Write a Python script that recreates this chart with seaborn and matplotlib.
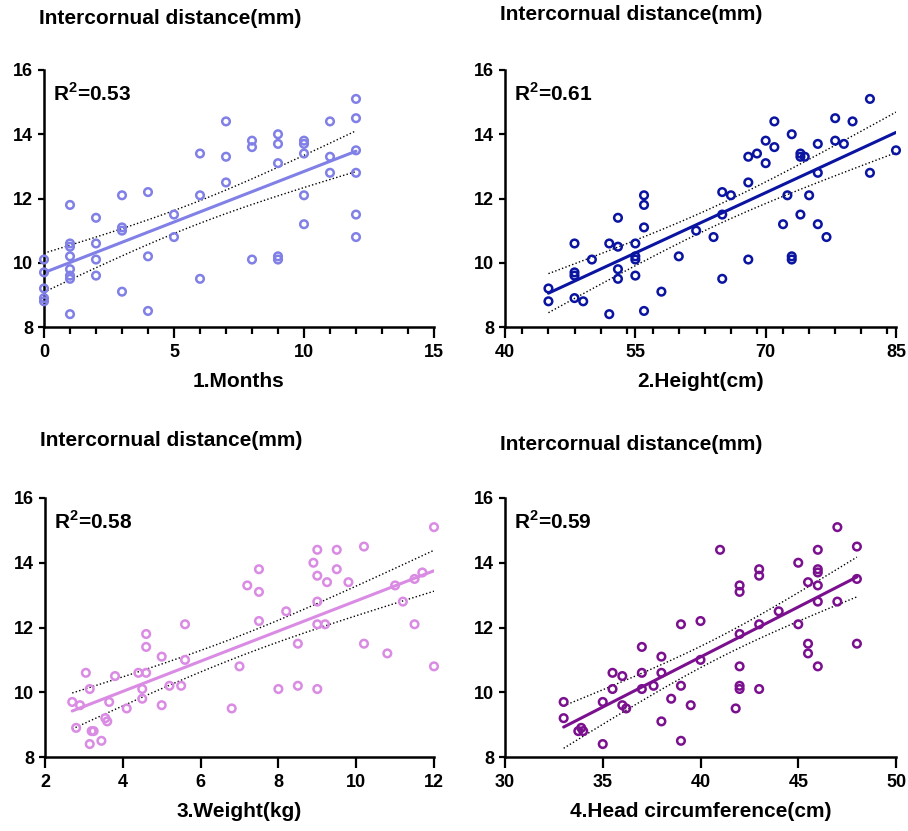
import numpy as np
import pandas as pd
import seaborn as sns
import matplotlib.pyplot as plt
from matplotlib.ticker import MultipleLocator

# Panel 1: months
months_x = [0, 0, 0, 0, 0, 1, 1, 1, 1, 1, 1, 1, 1, 2, 2, 2, 2, 3, 3, 3, 3, 4, 4, 4, 5, 5,
            6, 6, 6, 7, 7, 7, 8, 8, 8, 9, 9, 9, 9, 9, 10, 10, 10, 10, 10, 11, 11, 11,
            12, 12, 12, 12, 12, 12]
months_y = [10.1, 9.7, 9.2, 8.9, 8.8, 11.8, 10.6, 10.5, 10.2, 9.8, 9.6, 9.5, 8.4,
            11.4, 10.6, 10.1, 9.6, 12.1, 11.1, 11.0, 9.1, 12.2, 10.2, 8.5, 11.5, 10.8,
            13.4, 12.1, 9.5, 14.4, 13.3, 12.5, 13.8, 13.6, 10.1, 14.0, 13.7, 13.1, 10.2, 10.1,
            13.8, 13.7, 13.4, 12.1, 11.2, 14.4, 13.3, 12.8, 15.1, 14.5, 13.5, 12.8, 11.5, 10.8]

# Panel 2: height
height_x = [45, 45, 48, 48, 48, 48, 49, 50, 52, 52, 53, 53, 53, 53, 55, 55, 55, 55,
            56, 56, 56, 56, 58, 60, 62, 64, 65, 65, 65, 66, 68, 68, 68, 69, 70, 70, 71, 71,
            72, 72.5, 73, 73, 73, 74, 74, 74, 74.5, 75, 76, 76, 76, 77, 78, 78, 79, 80,
            82, 82, 85]
height_y = [9.2, 8.8, 10.6, 9.7, 9.6, 8.9, 8.8, 10.1, 10.6, 8.4, 11.4, 10.5, 9.8, 9.5,
            10.6, 10.2, 10.1, 9.6, 12.1, 11.8, 11.1, 8.5, 9.1, 10.2, 11.0, 10.8, 12.2, 11.5, 9.5,
            12.1, 13.3, 12.5, 10.1, 13.4, 13.8, 13.1, 14.4, 13.6, 11.2, 12.1, 14.0, 10.2, 10.1,
            13.4, 13.3, 11.5, 13.3, 12.1, 13.7, 12.8, 11.2, 10.8, 14.5, 13.8, 13.7, 14.4,
            15.1, 12.8, 13.5]

# Panel 3: weight
weight_x = [2.7, 2.8, 2.9, 3.05, 3.15, 3.15, 3.2, 3.25, 3.45, 3.55, 3.6, 3.65, 3.8, 4.1,
            4.4, 4.5, 4.5, 4.6, 4.6, 4.6, 5.0, 5.0, 5.2, 5.5, 5.6, 5.6, 6.8, 7.0, 7.2,
            7.5, 7.5, 7.5, 8.0, 8.2, 8.5, 8.5, 8.9, 9.0, 9.0, 9.0, 9.0, 9.0, 9.2, 9.25,
            9.5, 9.5, 9.8, 10.2, 10.2, 10.8, 11.0, 11.2, 11.5, 11.5, 11.7, 12.0, 12.0]
weight_y = [9.7, 8.9, 9.6, 10.6, 10.1, 8.4, 8.8, 8.8, 8.5, 9.2, 9.1, 9.7, 10.5, 9.5,
            10.6, 10.1, 9.8, 11.8, 11.4, 10.6, 11.1, 9.6, 10.2, 10.2, 12.1, 11.0, 9.5, 10.8, 13.3,
            13.8, 13.1, 12.2, 10.1, 12.5, 11.5, 10.2, 14.0, 14.4, 13.6, 12.8, 12.1, 10.1, 12.1, 13.4,
            14.4, 13.8, 13.4, 14.5, 11.5, 11.2, 13.3, 12.8, 13.5, 12.1, 13.7, 15.1, 10.8]

# Panel 4: head circumference
head_x = [33, 33, 33.75, 33.9, 34, 35, 35, 35.5, 35.5, 36, 36, 36.2, 37, 37, 37, 37.6,
          38, 38, 38, 38.5, 39, 39, 39, 39.5, 40, 40, 41, 41.8, 42, 42, 42, 42, 42, 42,
          43, 43, 43, 43, 44, 45, 45, 45.5, 45.5, 45.5, 46, 46, 46, 46, 46, 46, 47, 47,
          48, 48, 48]
head_y = [9.7, 9.2, 8.8, 8.9, 8.8, 9.7, 8.4, 10.6, 10.1, 10.5, 9.6, 9.5, 11.4, 10.6, 10.1, 10.2,
          11.1, 10.6, 9.1, 9.8, 12.1, 10.2, 8.5, 9.6, 12.2, 11.0, 14.4, 9.5, 13.3, 13.1, 11.8, 10.8,
          10.2, 10.1, 13.8, 13.6, 12.1, 10.1, 12.5, 14.0, 12.1, 13.4, 11.5, 11.2, 14.4, 13.8, 13.7,
          13.3, 12.8, 10.8, 15.1, 12.8, 14.5, 13.5, 11.5]

x_labels = ["1.Months", "2.Height(cm)", "3.Weight(kg)", "4.Head circumference(cm)"]
r2_values = ["0.53", "0.61", "0.58", "0.59"]
title = "Intercornual distance(mm)"
colors = ["#8080E6", "#0A14A0", "#DA8BE3", "#7B108F"]
y_ticks = [8, 10, 12, 14, 16]

sns.set_style("ticks")
plt.rcParams['font.family'] = ['Liberation Sans', 'DejaVu Sans']
plt.rcParams['font.weight'] = 'bold'
plt.rcParams['mathtext.fontset'] = 'custom'
plt.rcParams['mathtext.rm'] = 'Liberation Sans:bold'
plt.rcParams['mathtext.bf'] = 'Liberation Sans:bold'
for k in ('text.color', 'axes.edgecolor', 'axes.labelcolor', 'xtick.color', 'ytick.color'):
    plt.rcParams[k] = 'black'

fig = plt.figure(figsize=(9.08, 8.31), dpi=100)
W, H = 908, 831

panels = [
    (months_x, months_y, (0, 15), [0, 5, 10, 15], 1, [44, 70, 434, 327], (39, 18)),
    (height_x, height_y, (40, 85), [40, 55, 70, 85], 3, [505, 70, 896, 327], (500, 15)),
    (weight_x, weight_y, (2, 12), [2, 4, 6, 8, 10, 12], None, [45, 498, 434, 757], (40, 440)),
    (head_x, head_y, (30, 50), [30, 35, 40, 45, 50], None, [505, 498, 896, 757], (500, 444)),
]

for i, (xs, ys, xlim, xticks, minor, box, tpos) in enumerate(panels):
    l, t, r, b = box
    ax = fig.add_axes([l / W, 1 - b / H, (r - l) / W, (b - t) / H])
    df = pd.DataFrame({"x": xs, "y": ys})
    sns.regplot(data=df, x="x", y="y", ax=ax, ci=None, color=colors[i],
                scatter_kws=dict(s=30, facecolors="none", edgecolors=colors[i],
                                 linewidths=1.8, alpha=1, clip_on=False, zorder=3),
                line_kws=dict(lw=2.2))

    # 95% confidence band of the fitted line (dotted)
    x = np.asarray(xs, float)
    y = np.asarray(ys, float)
    n = len(x)
    slope, icpt = np.polyfit(x, y, 1)
    xx = np.linspace(x.min(), x.max(), 100)
    yy = slope * xx + icpt
    resid = y - (slope * x + icpt)
    s = np.sqrt(np.sum(resid ** 2) / (n - 2))
    se = s * np.sqrt(1 / n + (xx - x.mean()) ** 2 / np.sum((x - x.mean()) ** 2))
    for sign in (1, -1):
        ax.plot(xx, yy + sign * 2.006 * se, color="black", lw=1.0, ls=(0, (1, 1.6)))

    ax.set_xlim(*xlim)
    ax.set_ylim(8, 16)
    ax.set_xticks(xticks)
    ax.set_yticks(y_ticks)
    if minor:
        ax.xaxis.set_minor_locator(MultipleLocator(minor))
    sns.despine(ax=ax)
    for sp in ("left", "bottom"):
        ax.spines[sp].set_linewidth(1.8)
    ax.tick_params(axis="x", which="major", length=8, width=1.6, labelsize=13, pad=4)
    ax.tick_params(axis="x", which="minor", length=5, width=1.6)
    ax.tick_params(axis="y", which="major", length=4, width=1.6, labelsize=13, pad=4)
    ax.set_xlabel(x_labels[i], fontsize=15, fontweight="bold", labelpad=8)
    ax.set_ylabel("")
    ax.text(0.022, 0.91, r"R$^{2}$=" + r2_values[i], transform=ax.transAxes, fontsize=15,
            fontweight="bold", ha="left", va="center")
    fig.text(tpos[0] / W, 1 - tpos[1] / H, title, fontsize=15, fontweight="bold",
             ha="left", va="center")

fig.savefig("out.png", dpi=100)
